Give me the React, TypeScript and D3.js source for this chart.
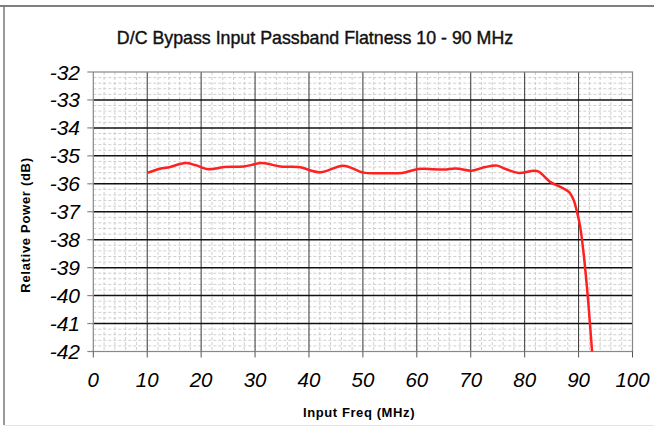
import React from "react";
import * as d3 from "d3";

const freqMHz = [10, 12.4, 13.8, 17.1, 18.9, 21.4, 24.2, 27.9, 31.3, 34.7, 38.1, 42.1, 46.4, 50.1, 53.2, 57.3, 60.3, 65.0, 67.2, 70.2, 72.7, 74.9, 76.7, 78.9, 81.7, 82.6, 84.8, 86.6, 88.2, 89.1, 89.7, 90.3, 91.0, 91.6, 92.2, 92.5];
const powerDb = [-35.61, -35.46, -35.42, -35.26, -35.33, -35.48, -35.40, -35.38, -35.26, -35.38, -35.40, -35.59, -35.35, -35.60, -35.62, -35.61, -35.47, -35.49, -35.45, -35.53, -35.40, -35.35, -35.49, -35.61, -35.53, -35.56, -35.94, -36.11, -36.29, -36.59, -37.0, -37.54, -38.61, -39.80, -41.23, -42.0];
const xTicks = [0, 10, 20, 30, 40, 50, 60, 70, 80, 90, 100];
const yTicks = [-32, -33, -34, -35, -36, -37, -38, -39, -40, -41, -42];
const xMinor = d3.range(0, 101, 2);
const yMinor = d3.range(0, 51).map((i) => -42 + i * 0.2);

const title = "D/C Bypass Input Passband Flatness 10 - 90 MHz";
const xTitle = "Input Freq (MHz)";
const yTitle = "Relative Power (dB)";

export default function App() {
  const W = 654, H = 427;
  const L = 93.3, R = 632.5, T = 72, B = 351.5;
  const x = d3.scaleLinear().domain([0, 100]).range([L, R]);
  const y = d3.scaleLinear().domain([-42, -32]).range([B, T]);
  const pts = freqMHz.map((f, i) => [f, powerDb[i]] as [number, number]);
  const line = d3.line<[number, number]>().x((d) => x(d[0])).y((d) => y(d[1])).curve(d3.curveCatmullRom.alpha(0.5));
  const font = "Arial, 'Liberation Sans', sans-serif";
  return (
    <svg width={W} height={H} style={{ position: "absolute", left: 0, top: 0, background: "#fff" }} fontFamily={font}>
      <rect x={0} y={0} width={W} height={H} fill="#fff" />
      {/* frame */}
      <line x1={0} x2={W} y1={6} y2={6} stroke="#555" strokeWidth={1.5} />
      <line x1={4} x2={4} y1={6} y2={425} stroke="#777" strokeWidth={1.5} />
      <line x1={4} x2={W} y1={425.5} y2={425.5} stroke="#e4e4e4" strokeWidth={1} />
      <text x={315} y={44} textAnchor="middle" fontSize={17.8} fill="#111" stroke="#111" strokeWidth={0.4}>{title}</text>
      {/* minor grid */}
      {xMinor.filter((v) => v % 10 !== 0).map((v) => (
        <line key={"xm" + v} x1={x(v)} x2={x(v)} y1={T} y2={B} stroke="#cfcfcf" strokeWidth={1} strokeDasharray="3,2" />
      ))}
      {yMinor.filter((v, i) => i % 5 !== 0).map((v, i) => (
        <line key={"ym" + i} x1={L} x2={R} y1={y(v)} y2={y(v)} stroke="#cfcfcf" strokeWidth={1} strokeDasharray="3,2" />
      ))}
      {/* major grid */}
      {xTicks.slice(1, -1).map((v) => (
        <line key={"xg" + v} x1={x(v)} x2={x(v)} y1={T} y2={B} stroke="#333" strokeWidth={1} />
      ))}
      {yTicks.slice(1, -1).map((v) => (
        <line key={"yg" + v} x1={L} x2={R} y1={y(v)} y2={y(v)} stroke="#111" strokeWidth={1.5} />
      ))}
      {/* plot border */}
      <rect x={L} y={T} width={R - L} height={B - T} fill="none" stroke="#888" strokeWidth={1.2} />
      {/* ticks */}
      {yTicks.map((v) => (
        <line key={"yt" + v} x1={L - 6} x2={L} y1={y(v)} y2={y(v)} stroke="#888" strokeWidth={1.2} />
      ))}
      {xTicks.map((v) => (
        <line key={"xt" + v} x1={x(v)} x2={x(v)} y1={B} y2={B + 6} stroke="#555" strokeWidth={1} />
      ))}
      {yTicks.map((v) => (
        <text key={"yl" + v} x={80} y={y(v) + 7.5} textAnchor="end" fontSize={21} fontStyle="italic" fill="#000">{v}</text>
      ))}
      {xTicks.map((v) => (
        <text key={"xl" + v} x={x(v)} y={387} textAnchor="middle" fontSize={20.5} fontStyle="italic" fill="#000">{v}</text>
      ))}
      <text x={359} y={417} textAnchor="middle" fontSize={13} fontWeight="bold" letterSpacing={0.6} fill="#000">{xTitle}</text>
      <text transform={`translate(30,225) rotate(-90)`} textAnchor="middle" fontSize={13} fontWeight="bold" letterSpacing={0.7} fill="#000">{yTitle}</text>
      <path d={line(pts) || ""} fill="none" stroke="#ff2020" strokeWidth={2.5} strokeLinejoin="round" />
    </svg>
  );
}
